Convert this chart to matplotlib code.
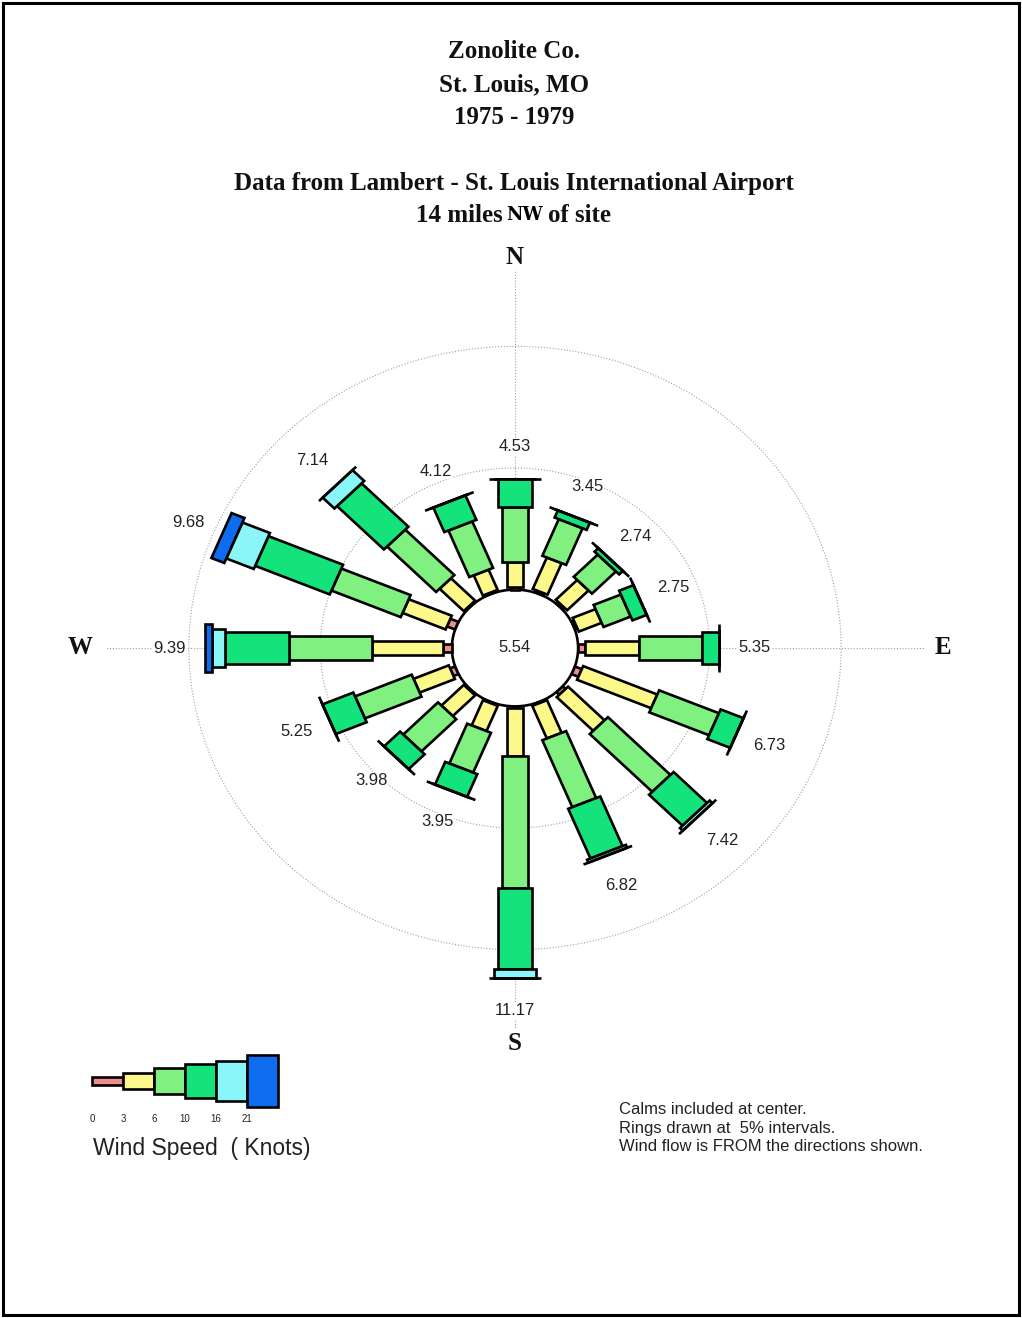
import numpy as np
import matplotlib
matplotlib.use("Agg")
import matplotlib.pyplot as plt
from matplotlib.patches import Polygon, Circle, Rectangle

# ---------------- data ----------------
directions = ['N', 'NNE', 'NE', 'ENE', 'E', 'ESE', 'SE', 'SSE',
              'S', 'SSW', 'SW', 'WSW', 'W', 'WNW', 'NW', 'NNW']
speed_edges = ['0', '3', '6', '10', '16', '21']
totals = [4.53, 3.45, 2.74, 2.75, 5.35, 6.73, 7.42, 6.82,
          11.17, 3.95, 3.98, 5.25, 9.39, 9.68, 7.14, 4.12]
calm = 5.54
# percent frequency per speed class (knots) for each direction
pct_0_3 = [0.12, 0.10, 0.10, 0.10, 0.25, 0.28, 0.15, 0.05,
           0.05, 0.05, 0.05, 0.20, 0.35, 0.33, 0.05, 0.06]
pct_3_6 = [1.00, 1.40, 1.15, 0.94, 2.05, 3.05, 1.96, 1.45,
           1.98, 1.12, 1.20, 1.45, 2.68, 1.77, 1.30, 0.90]
pct_6_10 = [2.28, 1.63, 1.29, 1.12, 2.40, 2.46, 3.36, 2.98,
            5.42, 1.77, 1.87, 2.33, 3.18, 2.85, 2.64, 2.07]
pct_10_16 = [1.13, 0.32, 0.20, 0.59, 0.65, 0.94, 1.80, 2.21,
             3.34, 1.01, 0.86, 1.27, 2.42, 3.07, 2.52, 1.09]
pct_16_21 = [0.00, 0.00, 0.00, 0.00, 0.00, 0.00, 0.15, 0.13,
             0.38, 0.00, 0.00, 0.00, 0.50, 1.13, 0.63, 0.00]
pct_21_up = [0.00, 0.00, 0.00, 0.00, 0.00, 0.00, 0.00, 0.00,
             0.00, 0.00, 0.00, 0.00, 0.26, 0.53, 0.00, 0.00]
ring_values = [5, 10]

# ---------------- style ----------------
class_colors = ['#F08C8C', '#FCF98A', '#80F080', '#14E27A', '#8AF6FA', '#0E6CF0']
class_widths = [0.34, 0.61, 0.98, 1.32, 1.60, 2.00]
R0 = 2.4           # calm circle radius (in % units)
EDGE_LW = 1.9
DOT = dict(color='#a0a0a0', lw=0.8, ls=(0, (1, 1.6)))

W_PX, H_PX = 1022, 1318
fig = plt.figure(figsize=(W_PX / 100, H_PX / 100), dpi=100)
ax = fig.add_axes([0, 0, 1, 1])
ax.axis('off')
sx = 26.3
sy = 26.3 * 0.925
cx, cy = 515, 648
ax.set_xlim(-cx / sx, (W_PX - cx) / sx)
ax.set_ylim(-(H_PX - cy) / sy, cy / sy)


def px(x, y):
    return x / W_PX, 1 - y / H_PX


# rings and axis lines
t = np.linspace(0, 2 * np.pi, 400)
for rv in ring_values:
    rr = R0 + rv
    ax.plot(rr * np.sin(t), rr * np.cos(t), zorder=1, **DOT)
for ang in range(0, 360, 90):
    a = np.deg2rad(ang)
    ax.plot([0, 15.6 * np.sin(a)], [0, 15.6 * np.cos(a)], zorder=1, **DOT)

ax.add_patch(Circle((0, 0), R0, facecolor='white', edgecolor='black',
                    lw=EDGE_LW, zorder=3))
ax.text(0, 0, f"{calm:.2f}", ha='center', va='center', fontsize=12,
        family='Liberation Sans', color='#222222', zorder=4)

classes = [pct_0_3, pct_3_6, pct_6_10, pct_10_16, pct_16_21, pct_21_up]
for i, d in enumerate(directions):
    a = np.deg2rad(22.5 * i)
    u = np.array([np.sin(a), np.cos(a)])
    v = np.array([np.cos(a), -np.sin(a)])
    r = R0
    for k, cls in enumerate(classes):
        val = cls[i]
        hw = class_widths[k] / 2
        r2 = r + val
        pts = [r * u + hw * v, r2 * u + hw * v, r2 * u - hw * v, r * u - hw * v]
        ax.add_patch(Polygon(pts, closed=True, facecolor=class_colors[k],
                             edgecolor='black', lw=EDGE_LW, joinstyle='miter',
                             zorder=5 + k))
        r = r2
    rl = R0 + totals[i] + 1.35
    ax.text(rl * u[0], rl * u[1], f"{totals[i]:.2f}", ha='center', va='center',
            fontsize=12, family='Liberation Sans', color='#222222', zorder=12,
            bbox=dict(facecolor='white', edgecolor='none', pad=0.5))

# compass letters
comp = dict(fontsize=18, family='Liberation Serif', fontweight='bold',
            ha='center', va='center', zorder=12, color='#111111',
            bbox=dict(facecolor='white', edgecolor='none', pad=0.5))
ax.text(0, (cy - 258) / sy, 'N', **comp)
ax.text(0, -(1043 - cy) / sy, 'S', **comp)
ax.text(-(cx - 80) / sx, 0, 'W', **comp)
ax.text((943 - cx) / sx, 0, 'E', **comp)

# legend
L = 31 / sx
lx0 = (92 - cx) / sx
ly = -(1081 - cy) / sy
for k in range(6):
    h = class_widths[k] * 1.05
    ax.add_patch(Rectangle((lx0 + k * L, ly - h / 2), L, h,
                           facecolor=class_colors[k], edgecolor='black',
                           lw=EDGE_LW, zorder=5))
    ax.text(lx0 + k * L, -(1119 - cy) / sy, speed_edges[k], ha='center',
            va='center', fontsize=7, family='Liberation Sans', color='#222222')

fig.text(*px(93, 1155), 'Wind Speed  ( Knots)', ha='left', va='baseline',
         fontsize=16.5, family='Liberation Sans', color='#222222')

# titles
tt = dict(ha='center', va='baseline', fontsize=18, family='Liberation Serif',
          fontweight='bold', color='#111111')
fig.text(*px(514, 58), 'Zonolite Co.', **tt)
fig.text(*px(514, 91), 'St. Louis, MO', **tt)
fig.text(*px(514, 124), '1975 - 1979', **tt)
fig.text(*px(514, 190), 'Data from Lambert - St. Louis International Airport', **tt)
tt2 = dict(tt)
tt2.pop('ha')
fig.text(*px(503, 222), '14 miles', ha='right', **tt2)
fig.text(*px(548, 222), 'of site', ha='left', **tt2)
fig.text(*px(525, 220), 'NW', ha='center', va='baseline', fontsize=13,
         family='DejaVu Serif', fontweight='bold', color='black')

# notes
nt = dict(ha='left', va='baseline', fontsize=12, family='Liberation Sans',
          color='#222222')
fig.text(*px(619, 1114), 'Calms included at center.', **nt)
fig.text(*px(619, 1133), 'Rings drawn at  5% intervals.', **nt)
fig.text(*px(619, 1151), 'Wind flow is FROM the directions shown.', **nt)

# frame
fig.add_artist(Rectangle(px(3, 1315), (1019 - 3) / W_PX, (1315 - 3) / H_PX,
                         transform=fig.transFigure, fill=False,
                         edgecolor='black', lw=2.2))

fig.savefig('out.png', dpi=100)
